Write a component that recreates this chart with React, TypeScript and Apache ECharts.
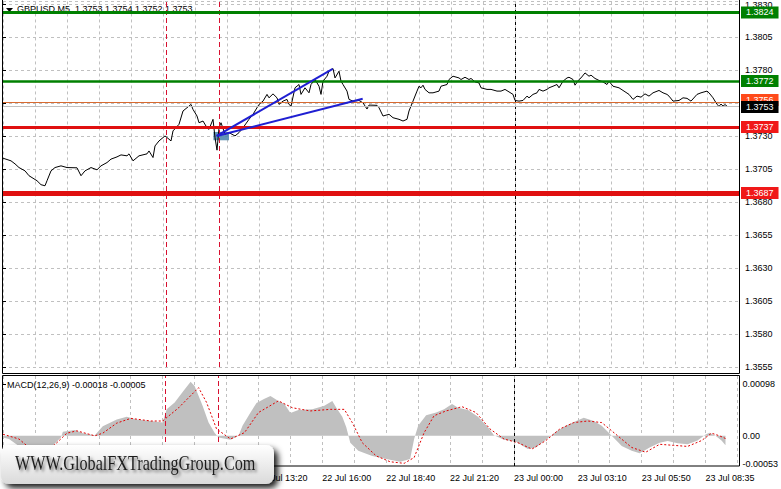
import React, { useEffect, useRef } from "react";
import * as echarts from "echarts";

// ---- data (bar index = 5-minute bar, price) ----
const priceBars = [0,4,6,8,11,13,17,19,21,22,24,26,29,32,37,39,41,44,47,49,52,54,57,59,62,63,65,68,72,73,75,76,78,81,83,84,85,88,90,92,94,95,97,98,100,102,103,105,106,107,108,109,111,113,116,118,120,123,125,128,130,132,133,135,137,138,140,142,143,144,146,148,149,151,153,154,156,158,159,160,162,163,165,166,168,169,170,172,173,175,178,180,182,183,187,188,190,193,195,198,200,202,203,205,207,208,209,210,211,213,215,218,219,222,223,225,228,229,231,233,234,236,238,239,242,244,247,249,251,253,255,256,258,260,262,263,265,267,268,270,272,273,275,277,278,280,282,283,285,286,288,289,291,293,294,296,298,300,302,303,305,308,310,313,315,317,319,321,323,325,328,330,332,333,335,338,340,342,344,347,349,352,353,355,357,358,359,360,361,362];
const prices = [
  1.37134, 1.37114, 1.37091, 1.37063, 1.37038, 1.37001, 1.36963, 1.36933, 1.36925, 1.36963,
  1.37038, 1.37063, 1.37076, 1.37063, 1.37061, 1.37001, 1.37038, 1.37063, 1.37046, 1.37076,
  1.37101, 1.37127, 1.37144, 1.37159, 1.37152, 1.37167, 1.37114, 1.37152, 1.37167, 1.37189,
  1.37139, 1.37227, 1.37265, 1.37303, 1.37278, 1.37265, 1.37341, 1.37391, 1.37492, 1.37517,
  1.37542, 1.37504, 1.37454, 1.37403, 1.37416, 1.37365, 1.37353, 1.37429, 1.37290, 1.37195,
  1.37365, 1.37403, 1.37316, 1.37328, 1.37303, 1.37328, 1.37365, 1.37429, 1.37467, 1.37542,
  1.37567, 1.37618, 1.37592, 1.37622, 1.37592, 1.37542, 1.37567, 1.37580, 1.37542, 1.37529,
  1.37668, 1.37693, 1.37618, 1.37668, 1.37630, 1.37693, 1.37731, 1.37680, 1.37618, 1.37718,
  1.37756, 1.37794, 1.37814, 1.37743, 1.37794, 1.37718, 1.37693, 1.37643, 1.37580, 1.37567,
  1.37572, 1.37554, 1.37507, 1.37537, 1.37535, 1.37517, 1.37454, 1.37467, 1.37441, 1.37429,
  1.37416, 1.37429, 1.37492, 1.37567, 1.37643, 1.37680, 1.37668, 1.37688, 1.37656, 1.37630,
  1.37630, 1.37643, 1.37680, 1.37693, 1.37731, 1.37756, 1.37743, 1.37731, 1.37748, 1.37731,
  1.37739, 1.37713, 1.37705, 1.37668, 1.37656, 1.37656, 1.37643, 1.37643, 1.37656, 1.37637,
  1.37618, 1.37572, 1.37567, 1.37572, 1.37605, 1.37592, 1.37618, 1.37630, 1.37656, 1.37643,
  1.37656, 1.37668, 1.37680, 1.37693, 1.37668, 1.37718, 1.37743, 1.37748, 1.37731, 1.37688,
  1.37731, 1.37743, 1.37781, 1.37756, 1.37764, 1.37739, 1.37724, 1.37713, 1.37693, 1.37718,
  1.37680, 1.37668, 1.37648, 1.37618, 1.37580, 1.37605, 1.37597, 1.37622, 1.37605, 1.37630,
  1.37648, 1.37630, 1.37618, 1.37605, 1.37567, 1.37572, 1.37592, 1.37588, 1.37567, 1.37618,
  1.37630, 1.37643, 1.37630, 1.37592, 1.37542, 1.37527, 1.37545, 1.37529, 1.37541, 1.37529
];

const histBars = [0,3,9,17,24,29,30,36,40,46,50,57,62,67,74,80,82,86,90,94,96,100,103,106,108,114,118,120,124,127,131,134,138,141,144,148,155,161,165,167,170,172,174,178,185,192,199,204,206,208,212,217,221,225,228,233,238,243,246,251,257,263,267,272,277,282,286,291,296,300,305,310,315,319,324,329,333,338,343,348,352,354,357,360,362];
const histValues = [-0.00003,-0.00006,-0.00022,-0.00028,-0.00022,-0.00003,0.000075,0.00011,0.00005,0.000013,0.00018,0.00031,0.00036,0.00031,0.00028,0.00025,0.0005,0.00063,0.00083,0.00102,0.00094,0.00057,0.00025,0.00006,-0.00003,-0.000075,0,0.00019,0.00044,0.00062,0.0007,0.00075,0.00066,0.0006,0.00043,0.00049,0.0005,0.00057,0.00066,0.00053,0.00036,0.00016,-0.00013,-0.00028,-0.00038,-0.00044,-0.00049,-0.00044,-0.00006,0.00019,0.00039,0.00044,0.0005,0.0006,0.00053,0.00049,0.00036,0.00016,0.00001,-0.000075,-0.00011,-0.00025,-0.00022,-0.000075,0.000075,0.00019,0.00026,0.00034,0.00028,0.00019,0,-0.00019,-0.00028,-0.00033,-0.00022,-0.00013,-0.0001,-0.00014,-0.00016,-0.00009,0.000025,0.00006,0,-0.00009,-0.00018];

const sigBars = [0,8,13,22,27,32,37,46,50,57,64,74,80,88,98,102,107,114,121,128,138,145,154,164,171,175,180,187,194,201,206,211,216,222,230,237,244,251,258,265,272,279,286,293,300,308,315,322,329,336,343,350,355,359,362];
const sigValues = [0.00003,-0.00006,-0.00022,-0.00028,-0.00013,0.00005,0.000094,0,0.00005,0.00024,0.00033,0.00028,0.00028,0.00053,0.00091,0.00063,0.00013,-0.00006,0.00006,0.00044,0.00066,0.00053,0.00047,0.0005,0.0005,0.00025,-0.00013,-0.00038,-0.00049,-0.00052,-0.00041,0.00006,0.00038,0.00047,0.00055,0.00044,0.00013,-0.00006,-0.00013,-0.00025,-0.00009,0.00013,0.00025,0.00028,0.00025,0,-0.00022,-0.00031,-0.00016,-0.00018,-0.0002,-0.00009,0.00005,0,-0.00005];

const timeTickBars = [128, 160, 192, 224, 256, 288, 320, 352];
const timeTickLabels = ["22 Jul 13:20", "22 Jul 16:00", "22 Jul 18:40", "22 Jul 21:20", "23 Jul 00:00", "23 Jul 03:10", "23 Jul 05:50", "23 Jul 08:35"];
const levelPrices = [1.3824, 1.3772, 1.3756, 1.3753, 1.3737, 1.3687];
const macdLabelValues = [0.00098, 0, -0.00053];
const redVLineBars = [81.5, 108];
const daySepBars = [256];
const trendStart = [106.85, 1.37303];
const trendEnds = [[164.85, 1.37811], [179.85, 1.37585]];
const boxCorners = [[105.2, 1.37333], [113, 1.3727]];
const headerText = "GBPUSD,M5  1.3753 1.3754 1.3752 1.3753";
const macdTitle = "MACD(12,26,9) -0.00018 -0.00005";
const watermark = "WWW.GlobalFXTradingGroup.Com";

const FONT = "'Liberation Sans', Arial, sans-serif";
const levelStyles = [
  { color: "#008000", width: 3, bg: "#008000", dy: 0 },
  { color: "#008000", width: 2.5, bg: "#008000", dy: 0 },
  { color: "#d86a30", width: 1, bg: "#ff4a1a", dy: -2 },
  { color: "#c0c0c0", width: 1, bg: "#000000", dy: 1 },
  { color: "#e01010", width: 3, bg: "#f01818", dy: 0 },
  { color: "#e01010", width: 5, bg: "#f01818", dy: 0 },
];

export default function App() {
  const ref = useRef<HTMLDivElement>(null);
  useEffect(() => {
    document.body.style.margin = "0";
    document.body.style.background = "#fff";
    if (!ref.current) return;
    const chart = echarts.init(ref.current, null, { renderer: "svg" });
    const gridSplit = { show: true, lineStyle: { color: "#c0c0c0", type: [3, 3], width: 1 } };
    const vLines = () => [
      ...redVLineBars.map((b) => ({ xAxis: b, lineStyle: { color: "#d81030", type: [5, 3], width: 1 }, label: { show: false } })),
      ...daySepBars.map((b) => ({ xAxis: b, lineStyle: { color: "#000", type: [3, 3], width: 1 }, label: { show: false } })),
    ];
    const levelLines = levelPrices.map((p, i) => ({
      yAxis: p,
      lineStyle: { color: levelStyles[i].color, width: levelStyles[i].width, type: "solid" },
      label: {
        show: true,
        position: "end",
        distance: 2,
        offset: [0, levelStyles[i].dy],
        formatter: () => p.toFixed(4),
        color: "#fff",
        backgroundColor: levelStyles[i].bg,
        padding: [2, 5, 1, 5],
        fontSize: 9,
        fontFamily: FONT,
      },
    }));
    const trendLines = trendEnds.map((e) => [
      { coord: trendStart, lineStyle: { color: "#1f1fd2", width: 2, type: "solid" }, label: { show: false } },
      { coord: e },
    ]);

    const option: any = {
      animation: false,
      backgroundColor: "#fff",
      grid: [
        { left: 3, right: 42, top: 0, height: 367 },
        { left: 3, right: 42, top: 376, height: 90 },
      ],
      xAxis: [
        {
          type: "value", gridIndex: 0, min: 0, max: 368, interval: 16,
          axisLine: { show: false }, axisTick: { show: false }, axisLabel: { show: false }, splitLine: gridSplit,
        },
        {
          type: "value", gridIndex: 1, min: 0, max: 368, interval: 16,
          axisLine: { show: false }, axisTick: { show: false },
          axisLabel: {
            show: true,
            formatter: (v: number) => { const i = timeTickBars.indexOf(v); return i >= 0 ? timeTickLabels[i] : ""; },
            align: "left", margin: 7, color: "#000", fontSize: 9, fontFamily: FONT,
          },
          splitLine: gridSplit,
        },
      ],
      yAxis: [
        {
          type: "value", gridIndex: 0, position: "right", min: 1.3555, max: 1.38323, interval: 0.0025,
          axisLine: { show: false },
          axisTick: { show: true, length: 3, lineStyle: { color: "#000" } },
          axisLabel: { formatter: (v: number) => v.toFixed(4), margin: 6, color: "#000", fontSize: 9, fontFamily: FONT, showMaxLabel: false },
          splitLine: gridSplit,
        },
        {
          type: "value", gridIndex: 1, position: "right", min: -0.00057, max: 0.00113,
          axisLine: { show: false }, splitLine: { show: false },
          axisTick: { show: true, length: 3, customValues: macdLabelValues, lineStyle: { color: "#000" } },
          axisLabel: {
            customValues: macdLabelValues,
            formatter: (v: number) => (v === 0 ? "0.00" : v.toFixed(5)),
            margin: 5, color: "#000", fontSize: 9, fontFamily: FONT,
          },
        },
      ],
      series: [
        {
          type: "line", xAxisIndex: 0, yAxisIndex: 0, silent: true, z: 3,
          data: priceBars.map((b, i) => [b, prices[i]]),
          symbol: "none", lineStyle: { color: "#000", width: 1 },
          markArea: {
            silent: true,
            itemStyle: { color: "rgba(70,130,170,0.85)" },
            data: [[{ coord: boxCorners[0] }, { coord: boxCorners[1] }]],
          },
          markLine: {
            silent: true, symbol: ["none", "none"], animation: false, precision: 6,
            data: [...vLines(), ...levelLines, ...trendLines],
          },
        },
        {
          type: "line", xAxisIndex: 1, yAxisIndex: 1, silent: true, z: 2,
          data: histBars.map((b, i) => [b, histValues[i]]),
          symbol: "none", lineStyle: { width: 0, opacity: 0 },
          areaStyle: { color: "#c0c0c0", opacity: 1, origin: 0 },
          markLine: { silent: true, symbol: ["none", "none"], precision: 6, data: vLines() },
        },
        {
          type: "line", xAxisIndex: 1, yAxisIndex: 1, silent: true, z: 3,
          data: sigBars.map((b, i) => [b, sigValues[i]]),
          symbol: "none", lineStyle: { color: "#e00000", width: 1, type: [2, 2] },
        },
      ],
      graphic: [
        { type: "polygon", z: 1, silent: true, shape: { points: [[6, 8], [13, 8], [9.5, 12]] }, style: { fill: "#000" } },
        { type: "text", z: 1, silent: true, x: 17, y: 8.5, style: { text: headerText, fill: "#000", fontSize: 9, fontFamily: FONT, verticalAlign: "middle" } },
        { type: "text", z: 1, silent: true, x: 7, y: 385, style: { text: macdTitle, fill: "#000", fontSize: 9, fontFamily: FONT, verticalAlign: "middle" } },
        { type: "rect", z: 50, silent: true, shape: { x: 2.5, y: -1, width: 737, height: 374.5 }, style: { fill: "none", stroke: "#000", lineWidth: 1 } },
        { type: "rect", z: 50, silent: true, shape: { x: 2.5, y: 375.5, width: 737, height: 90.5 }, style: { fill: "none", stroke: "#000", lineWidth: 1 } },
        {
          type: "rect", z: 100, silent: true,
          shape: { x: 1, y: 445, width: 273, height: 39, r: 8 },
          style: {
            fill: { type: "linear", x: 0, y: 0, x2: 0, y2: 1, colorStops: [{ offset: 0, color: "#ffffff" }, { offset: 1, color: "#dadada" }] },
            shadowBlur: 6, shadowOffsetX: 4, shadowOffsetY: 4, shadowColor: "rgba(0,0,0,0.9)",
          },
        },
        {
          type: "text", z: 101, silent: true, x: 15, y: 463, scaleX: 0.735,
          style: {
            text: watermark, fill: "#1e1e1e", fontSize: 22,
            fontFamily: "'Liberation Serif', 'Times New Roman', serif", verticalAlign: "middle",
            textShadowColor: "rgba(0,0,0,0.55)", textShadowBlur: 3, textShadowOffsetX: 2, textShadowOffsetY: 2,
          },
        },
      ],
    };
    chart.setOption(option);
    return () => chart.dispose();
  }, []);
  return <div ref={ref} style={{ width: 781, height: 489 }} />;
}
